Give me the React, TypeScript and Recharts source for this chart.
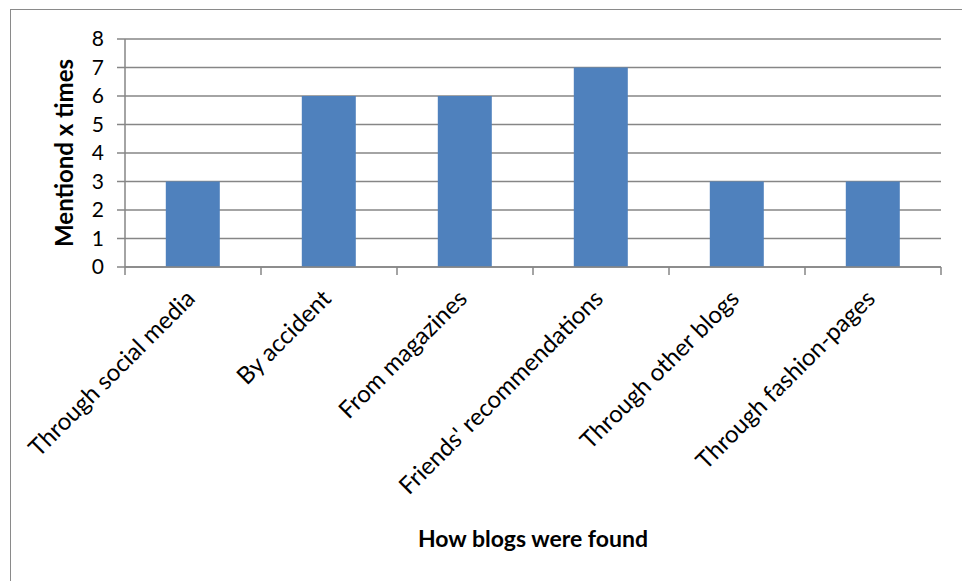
import { BarChart, Bar, XAxis, YAxis, CartesianGrid, Label } from "recharts"

const categories = [
  "Through social media",
  "By accident",
  "From magazines",
  "Friends' recommendations",
  "Through other blogs",
  "Through fashion-pages",
]
const mentions = [3, 6, 6, 7, 3, 3]
const yTicks = [0, 1, 2, 3, 4, 5, 6, 7, 8]
const boundaryTicks = [0, 1, 2, 3, 4, 5, 6]

const data = categories.map((name, i) => ({ name, value: mentions[i], pos: i + 0.5 }))

const FONT = "Lato, 'Open Sans', sans-serif"
const GRID = "#868686"

function AngledTick(props: any) {
  const { x, y, payload } = props
  return (
    <g transform={`translate(${x},${y})`}>
      <text
        x={0}
        y={0}
        dy={21}
        dx={-16}
        textAnchor="end"
        transform="rotate(-45)"
        fill="#000"
        fontSize={24}
        fontFamily={FONT}
      >
        {payload.value}
      </text>
    </g>
  )
}

const NoLabel = () => <g />

export default function App() {
  return (
    <div style={{ position: "absolute", left: 0, top: 0, width: 962, height: 581, background: "#fff", overflow: "hidden" }}>
      <div
        style={{
          position: "absolute",
          left: 10,
          top: 9,
          width: 970,
          height: 600,
          border: "1.5px solid #8a8a8a",
          boxSizing: "border-box",
        }}
      />
      <BarChart
        width={962}
        height={581}
        data={data}
        margin={{ top: 39, right: 21, left: 0, bottom: 34 }}
        barCategoryGap="30%"
        style={{ position: "absolute", left: 0, top: 0 }}
      >
        <CartesianGrid vertical={false} stroke={GRID} strokeWidth={1.5} xAxisId="b" />
        <XAxis
          xAxisId="a"
          type="number"
          dataKey="pos"
          domain={[0, 6]}
          ticks={boundaryTicks}
          interval={0}
          height={1}
          tick={<NoLabel />}
          tickLine={{ stroke: GRID, strokeWidth: 1.5 }}
          stroke={GRID}
          strokeWidth={1.5}
          tickSize={8}
          orientation="bottom"
        />
        <XAxis
          dataKey="name"
          xAxisId="b"
          height={279}
          axisLine={false}
          tickLine={false}
          interval={0}
          tick={<AngledTick />}
          tickMargin={0}
        >
          <Label
            value="How blogs were found"
            position="insideBottom"
            offset={0}
            fontFamily={FONT}
            fontSize={23}
            fontWeight="bold"
            fill="#000"
          />
        </XAxis>
        <YAxis
          domain={[0, 8]}
          ticks={yTicks}
          interval={0}
          width={125}
          stroke={GRID}
          strokeWidth={1.5}
          tickSize={8}
          tickMargin={13}
          tick={{ fill: "#000", fontSize: 21, fontFamily: FONT }}
        >
          <Label
            value="Mentiond x times"
            angle={-90}
            position="center"
            dx={2}
            fontFamily={FONT}
            fontSize={24}
            fontWeight="bold"
            fill="#000"
          />
        </YAxis>
        <Bar dataKey="value" xAxisId="b" fill="#4F81BD" isAnimationActive={false} />
      </BarChart>
    </div>
  )
}
